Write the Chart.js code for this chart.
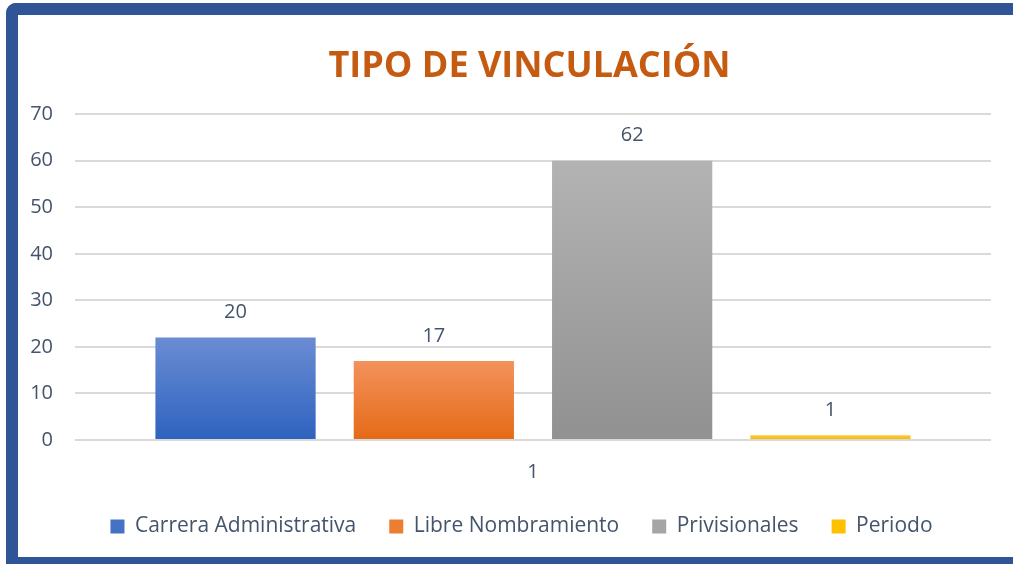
<!DOCTYPE html>
<html>
<head>
<meta charset="utf-8">
<script src="https://cdn.jsdelivr.net/npm/chart.js@4.4.0/dist/chart.umd.min.js"></script>
<style>
  html, body { margin: 0; padding: 0; background: #fff; overflow: hidden; }
  #wrap { position: relative; width: 1013px; height: 564px; }
  #frame {
    position: absolute; left: 6px; top: 3px; width: 1100px; height: 542px;
    border-left: 12px solid #2F5597; border-top: 12px solid #2F5597; border-bottom: 12px solid #2F5597;
    border-top-left-radius: 10px; pointer-events: none;
  }
</style>
</head>
<body>
<div id="wrap">
  <canvas id="chart" width="1013" height="564"></canvas>
  <div id="frame"></div>
</div>
<script>
const chartTitle = 'TIPO DE VINCULACIÓN'
const categories = ['1']
const seriesNames = ['Carrera Administrativa', 'Libre Nombramiento', 'Privisionales', 'Periodo']
// bar heights as drawn, and the labels printed above them
const barValues = [22, 17, 60, 1]
const barLabels = ['20', '17', '62', '1']
const yTicks = [0, 10, 20, 30, 40, 50, 60, 70]

const topColors = ['#6A8CD3', '#F3925C', '#B3B3B3', '#FFC936']
const bottomColors = ['#2E62BF', '#E56A17', '#919191', '#F5B800']
const midColors = ['#4472C4', '#ED7D31', '#A5A5A5', '#FFC000']

const textColor = '#44546A'
const fontFamily = "'Open Sans', sans-serif"

function barGradient(i) {
  return (ctx) => {
    const chart = ctx.chart
    if (ctx.type !== 'data' || !chart.chartArea) return midColors[i]
    const y = chart.scales.y
    const top = y.getPixelForValue(barValues[i])
    const bottom = y.getPixelForValue(0)
    const g = chart.ctx.createLinearGradient(0, top, 0, bottom)
    g.addColorStop(0, topColors[i])
    g.addColorStop(1, bottomColors[i])
    return g
  }
}

const labelPlugin = {
  id: 'barLabels',
  afterDatasetsDraw(chart) {
    const ctx = chart.ctx
    ctx.save()
    ctx.font = "20px " + fontFamily
    ctx.fillStyle = textColor
    ctx.textAlign = 'center'
    ctx.textBaseline = 'middle'
    chart.data.datasets.forEach((ds, i) => {
      const bar = chart.getDatasetMeta(i).data[0]
      ctx.fillText(barLabels[i], bar.x, bar.y - 25)
    })
    ctx.restore()
  }
}

// the original centres title and legend on the whole frame, not the plot
const centerShift = {
  id: 'centerShift',
  afterLayout(chart) {
    const shift = (box, dx) => { if (box) { box.left += dx; box.right += dx } }
    shift(chart.titleBlock, 24)
    shift(chart.legend, 16)
  }
}

const datasets = seriesNames.map((name, i) => ({
  label: name,
  data: [barValues[i]],
  backgroundColor: barGradient(i),
  borderWidth: 0,
  categoryPercentage: 0.866,
  barPercentage: 0.808
}))

new Chart(document.getElementById('chart').getContext('2d'), {
  type: 'bar',
  data: { labels: categories, datasets },
  options: {
    responsive: false,
    animation: false,
    layout: { padding: { left: 20, right: 22, top: 45, bottom: 17 } },
    plugins: {
      title: {
        display: true,
        text: chartTitle,
        color: '#C55A11',
        font: { family: fontFamily, size: 36, weight: 'bold' },
        padding: { top: 0, bottom: 26 }
      },
      legend: {
        position: 'bottom',
        labels: {
          color: textColor,
          font: { family: fontFamily, size: 21 },
          boxWidth: 14,
          boxHeight: 14,
          padding: 33,
          generateLabels: (chart) => seriesNames.map((name, i) => ({
            text: name,
            fillStyle: midColors[i],
            strokeStyle: midColors[i],
            lineWidth: 0,
            fontColor: textColor,
            datasetIndex: i
          }))
        }
      },
      tooltip: { enabled: false }
    },
    scales: {
      x: {
        afterFit: (scale) => { scale.height = 43 },
        grid: { display: false, drawTicks: false },
        border: { display: false },
        ticks: { color: textColor, font: { family: fontFamily, size: 20 }, padding: 20 }
      },
      y: {
        min: 0,
        max: 70,
        afterBuildTicks: (scale) => { scale.ticks = yTicks.map(v => ({ value: v })) },
        afterFit: (scale) => { scale.width = 55 },
        grid: { color: '#D9D9D9', lineWidth: 2, drawTicks: false },
        border: { display: false },
        ticks: { color: textColor, font: { family: fontFamily, size: 20 }, padding: 22 }
      }
    }
  },
  plugins: [labelPlugin, centerShift]
})
</script>
</body>
</html>
